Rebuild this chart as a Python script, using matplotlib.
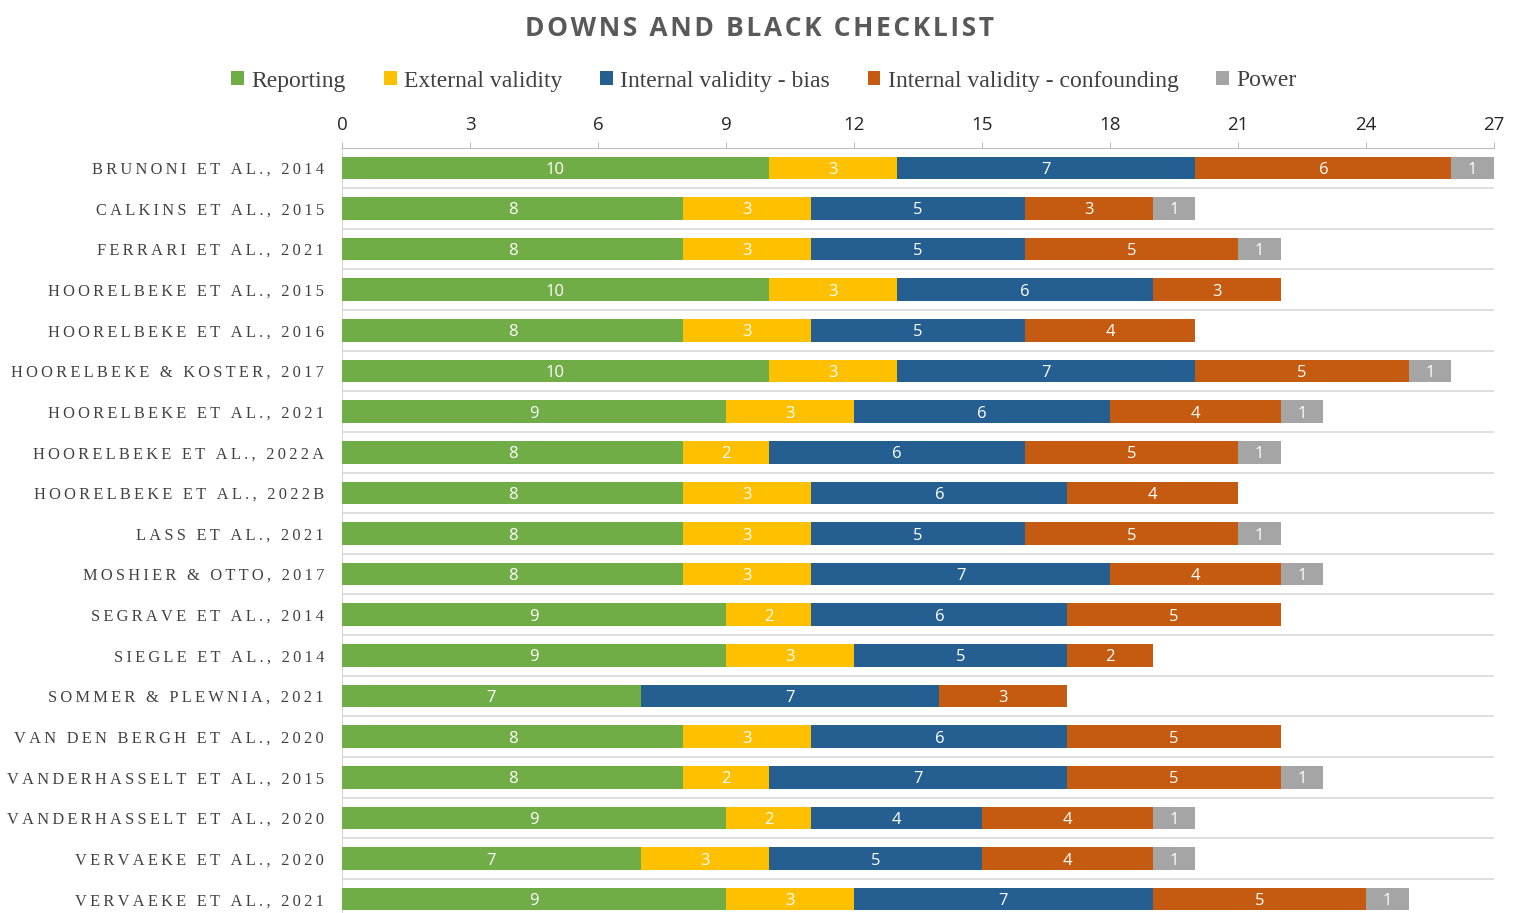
import numpy as np
import matplotlib.pyplot as plt
from matplotlib.patches import Patch

studies = [
    "Brunoni et al., 2014", "Calkins et al., 2015", "Ferrari et al., 2021",
    "Hoorelbeke et al., 2015", "Hoorelbeke et al., 2016", "Hoorelbeke & Koster, 2017",
    "Hoorelbeke et al., 2021", "Hoorelbeke et al., 2022a", "Hoorelbeke et al., 2022b",
    "Lass et al., 2021", "Moshier & Otto, 2017", "Segrave et al., 2014",
    "Siegle et al., 2014", "Sommer & Plewnia, 2021", "Van den Bergh et al., 2020",
    "Vanderhasselt et al., 2015", "Vanderhasselt et al., 2020", "Vervaeke et al., 2020",
    "Vervaeke et al., 2021",
]
categories = ["Reporting", "External validity", "Internal validity - bias",
              "Internal validity - confounding", "Power"]
reporting = [10, 8, 8, 10, 8, 10, 9, 8, 8, 8, 8, 9, 9, 7, 8, 8, 9, 7, 9]
external = [3, 3, 3, 3, 3, 3, 3, 2, 3, 3, 3, 2, 3, 0, 3, 2, 2, 3, 3]
bias = [7, 5, 5, 6, 5, 7, 6, 6, 6, 5, 7, 6, 5, 7, 6, 7, 4, 5, 7]
confounding = [6, 3, 5, 3, 4, 5, 4, 5, 4, 5, 4, 5, 2, 3, 5, 5, 4, 4, 5]
power = [1, 1, 1, 0, 0, 1, 1, 1, 0, 1, 1, 0, 0, 0, 0, 1, 1, 1, 1]
xticks = [0, 3, 6, 9, 12, 15, 18, 21, 24, 27]

colors = ["#70AD47", "#FFC000", "#255E91", "#C55A11", "#A5A5A5"]
series = [reporting, external, bias, confounding, power]

narrow = ["Liberation Sans Narrow", "Open Sans", "DejaVu Sans"]
serif = ["Liberation Serif", "DejaVu Serif"]

fig = plt.figure(figsize=(15.19, 9.13), dpi=100)
ax = fig.add_axes([342 / 1519, 1 - 919.5 / 913, (1494 - 342) / 1519, (919.5 - 147.5) / 913])

y = np.arange(len(studies))
left = np.zeros(len(studies))
for vals, col in zip(series, colors):
    vals = np.array(vals, dtype=float)
    ax.barh(y, vals, left=left, height=0.555, color=col, zorder=3)
    for yi, (l, v) in enumerate(zip(left, vals)):
        if v > 0:
            ax.text(l + v / 2, yi, "%d" % v, ha="center", va="center_baseline",
                    color="white", fontsize=12, family=narrow, zorder=4)
    left += vals

ax.set_xlim(0, 27)
ax.set_ylim(len(studies) - 0.5, -0.5)
ax.xaxis.tick_top()
ax.set_xticks(xticks)
ax.tick_params(axis="x", length=4, color="#bfbfbf", pad=6, labelsize=13.5, labelcolor="#262626")
for lbl in ax.get_xticklabels():
    lbl.set_family(narrow)

# gridlines between rows
for b in np.arange(0.5, len(studies) - 0.5, 1):
    ax.axhline(b, color="#d9d9d9", lw=1.2, zorder=1)

ax.set_yticks(y)
spaced = ["\u2009".join(s.upper()) for s in studies]
ax.set_yticklabels(spaced, family=serif, fontsize=11.8, color="#404040")
ax.tick_params(axis="y", length=0, pad=13)

ax.spines["top"].set_color("#bfbfbf")
ax.spines["left"].set_color("#d9d9d9")
ax.spines["right"].set_visible(False)
ax.spines["bottom"].set_visible(False)

fig.text(0.5, 1 - 28 / 913, "\u200a".join("DOWNS AND BLACK CHECKLIST"),
         ha="center", va="center", fontsize=19, fontweight="bold", color="#595959",
         family=["Open Sans", "DejaVu Sans"])

handles = [Patch(facecolor=c, edgecolor="none") for c in colors]
leg = fig.legend(handles, categories, loc="center", bbox_to_anchor=(764 / 1519, 1 - 81 / 913),
                 ncol=5, frameon=False, handlelength=0.55, handleheight=0.55, handletextpad=0.3,
                 columnspacing=1.6, prop={"family": serif, "size": 17})
for t in leg.get_texts():
    t.set_color("#404040")

fig.savefig("out.png", dpi=100)
